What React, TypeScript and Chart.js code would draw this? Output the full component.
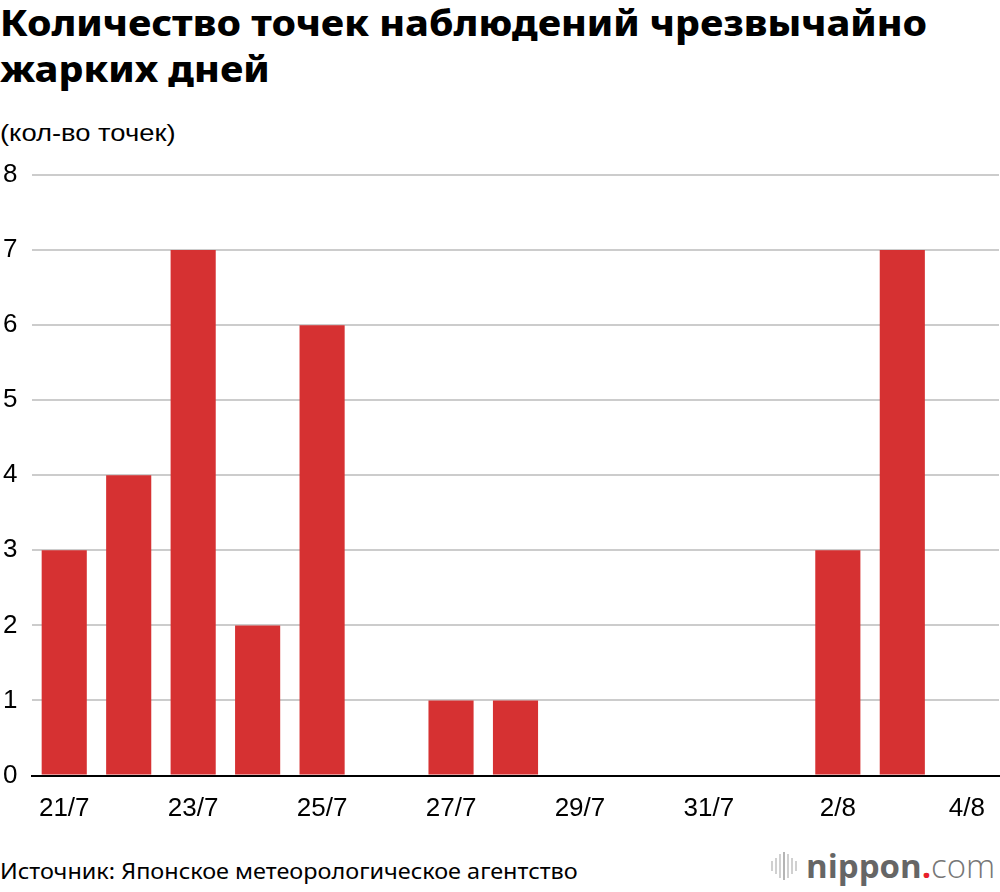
import { useEffect, useRef } from "react";
import { Chart, registerables } from "chart.js";

Chart.register(...registerables);

const days = [
  "21/7", "22/7", "23/7", "24/7", "25/7", "26/7", "27/7", "28/7",
  "29/7", "30/7", "31/7", "1/8", "2/8", "3/8", "4/8",
];
const points = [3, 4, 7, 2, 6, 0, 1, 1, 0, 0, 0, 0, 3, 7, 0];
const yTicks = [0, 1, 2, 3, 4, 5, 6, 7, 8];

const RED = "#d63132";
const TICK_FONT = { family: "'Liberation Sans', Arial, sans-serif", size: 26 };

function HotDaysChart() {
  const canvasRef = useRef<HTMLCanvasElement>(null);

  useEffect(() => {
    if (!canvasRef.current) return;
    const chart = new Chart(canvasRef.current, {
      type: "bar",
      data: {
        labels: days,
        datasets: [
          {
            data: points,
            backgroundColor: RED,
            borderWidth: 0,
            barPercentage: 0.7,
            categoryPercentage: 1,
          },
        ],
      },
      options: {
        responsive: false,
        animation: false,
        layout: { padding: { top: 25, left: 3, right: 1, bottom: 0 } },
        plugins: { legend: { display: false }, tooltip: { enabled: false } },
        scales: {
          x: {
            grid: { display: false },
            border: { display: true, color: "#000", width: 2 },
            ticks: {
              autoSkip: false,
              maxRotation: 0,
              padding: 10,
              color: "#000",
              font: TICK_FONT,
              callback: (_v, i) => (i % 2 === 0 ? days[i] : ""),
            },
            afterFit: (scale) => {
              scale.height = 54.5;
            },
          },
          y: {
            min: yTicks[0],
            max: yTicks[yTicks.length - 1],
            grid: { color: "#cccccc", lineWidth: 2, drawTicks: false },
            border: { display: false },
            ticks: {
              stepSize: 1,
              crossAlign: "far",
              color: "#000",
              font: TICK_FONT,
            },
            afterFit: (scale) => {
              scale.width = 29;
            },
          },
        },
      },
    });
    return () => chart.destroy();
  }, []);

  return (
    <canvas
      ref={canvasRef}
      width={1000}
      height={680}
      style={{ position: "absolute", left: 0, top: 150, width: 1000, height: 680 }}
    />
  );
}

function Logo() {
  const bars = [10, 16, 24, 28, 24, 16, 10];
  return (
    <div style={{ position: "absolute", left: 771, top: 846, height: 40, display: "flex", alignItems: "center" }}>
      <div style={{ display: "flex", alignItems: "center", gap: 2, marginRight: 9 }}>
        {bars.map((h, i) => (
          <div key={i} style={{ width: 2, height: h, background: i === 3 ? "#b5b5b5" : "#d0d0d0" }} />
        ))}
      </div>
      <span style={{ fontFamily: "'Open Sans', sans-serif", fontSize: 33, lineHeight: "40px", color: "#666", whiteSpace: "nowrap" }}>
        <span style={{ fontWeight: 700 }}>nippon</span>
        <span style={{ color: "#e8202a", fontWeight: 700 }}>.</span>
        <span style={{ fontWeight: 300, color: "#777" }}>com</span>
      </span>
    </div>
  );
}

const stretch = (sx: number): React.CSSProperties => ({
  transform: `scaleX(${sx})`,
  transformOrigin: "0 0",
  whiteSpace: "nowrap",
});

export default function App() {
  return (
    <div style={{ position: "absolute", left: 0, top: 0, width: 1000, height: 892, background: "#fff", overflow: "hidden" }}>
      <div
        style={{
          position: "absolute",
          left: 0,
          top: 0,
          fontFamily: "'Noto Sans', sans-serif",
          fontWeight: 800,
          fontSize: 36,
          lineHeight: "46px",
          color: "#000",
          ...stretch(1.09),
        }}
      >
        Количество точек наблюдений чрезвычайно
        <br />
        жарких дней
      </div>
      <div
        style={{
          position: "absolute",
          left: 0,
          top: 118,
          fontFamily: "'Liberation Sans', Arial, sans-serif",
          fontSize: 24,
          lineHeight: "30px",
          color: "#000",
          ...stretch(1.14),
        }}
      >
        (кол-во точек)
      </div>
      <HotDaysChart />
      <div
        style={{
          position: "absolute",
          left: 0,
          top: 857,
          fontFamily: "'Noto Sans', sans-serif",
          fontSize: 21,
          lineHeight: "28px",
          color: "#000",
          ...stretch(1.116),
        }}
      >
        Источник: Японское метеорологическое агентство
      </div>
      <Logo />
    </div>
  );
}
